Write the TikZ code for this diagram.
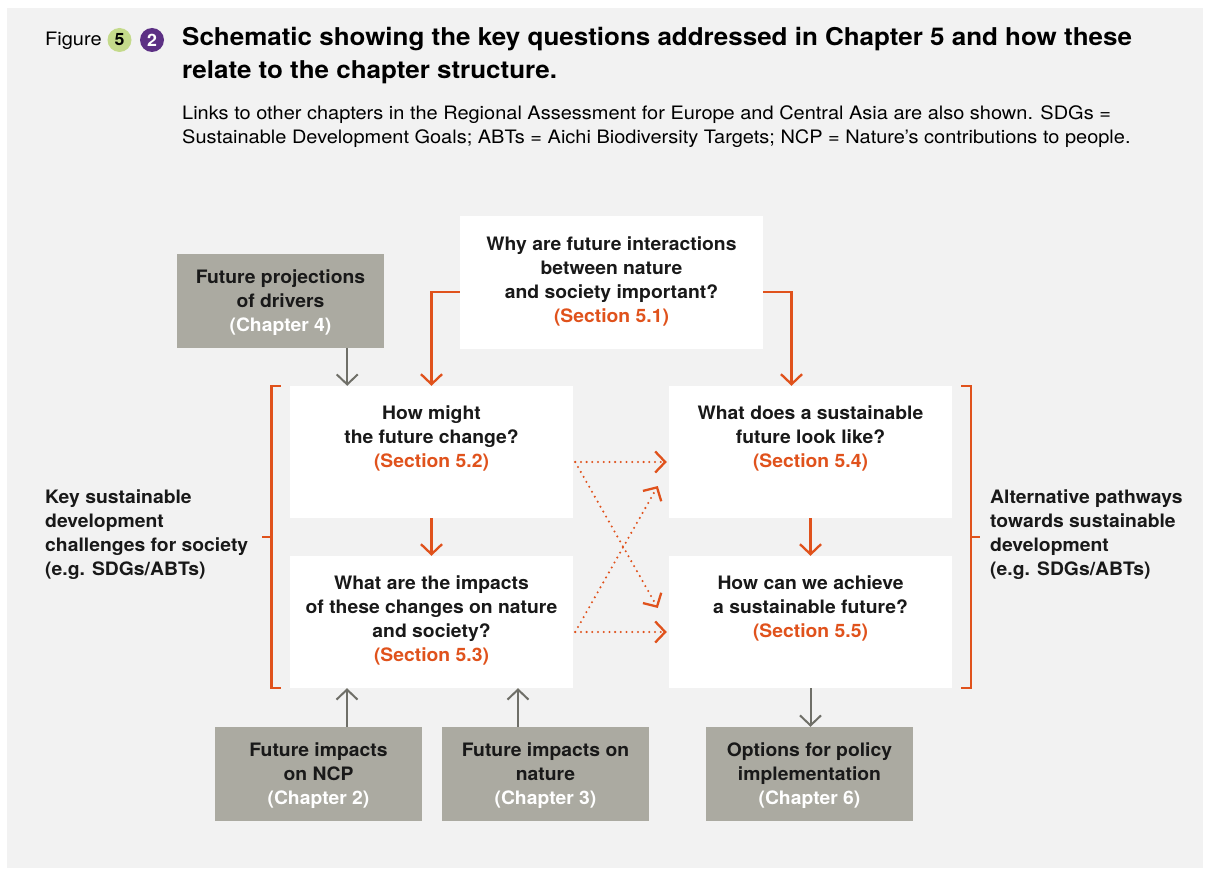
\documentclass[tikz,border=0pt]{standalone}
\usepackage{fontspec}
\setmainfont{TeX Gyre Heros}
\newfontfamily\boxfont[FakeStretch=1.045]{TeX Gyre Heros}
\newfontfamily\titlefont[FakeStretch=1.06]{TeX Gyre Heros}
\newfontfamily\capfont[FakeStretch=1.08]{TeX Gyre Heros}
\usetikzlibrary{arrows.meta,calc}

\definecolor{ipborange}{HTML}{E0521C}
\definecolor{chgray}{HTML}{ABAAA1}
\definecolor{arrgray}{HTML}{6F6F68}
\definecolor{bggray}{HTML}{F2F2F2}
\definecolor{fivegreen}{HTML}{C4DA8B}
\definecolor{twopurple}{HTML}{5C3084}

\tikzset{
  qbox/.style={fill=white, inner sep=0pt, minimum height=132pt},
  chbox/.style={fill=chgray, inner sep=0pt, minimum width=207pt, minimum height=94pt},
  qtext/.style={anchor=north, align=center, inner sep=0pt, text=black!90,
    font=\boxfont\bfseries\fontsize{18.5}{24}\selectfont},
  sidetext/.style={anchor=west, align=left, inner sep=0pt, text=black!90,
    font=\boxfont\bfseries\fontsize{18.5}{24}\selectfont},
  numdot/.style={circle, inner sep=0pt, minimum size=24pt, font=\boxfont\bfseries\fontsize{17}{17}\selectfont},
  orarrow/.style={draw=ipborange, line width=2.3pt, -{Straight Barb[length=10pt,width=21pt]}},
  grarrow/.style={draw=arrgray, line width=2pt, -{Straight Barb[length=10pt,width=21pt]}},
  dotarrow/.style={draw=ipborange, line width=2.3pt, line cap=round, dash pattern=on 0pt off 5.7pt,
    -{Straight Barb[length=10pt,width=21pt]}},
  bracket/.style={draw=ipborange, line width=2.5pt}
}

\begin{document}
\begin{tikzpicture}[x=1pt,y=-1pt]

% ===== Background =====
\useasboundingbox (0,0) rectangle (1210,869);
\fill[white] (0,0) rectangle (1210,869);
\fill[bggray] (7,8) rectangle (1203,868);

% ===== Header =====
\node[anchor=base west, inner sep=0pt, font=\capfont\fontsize{18.5}{20}\selectfont] (figlabel) at (45,46) {Figure};
\node[numdot, fill=fivegreen, text=black] (fig5) at (119.5,40) {5};
\node[numdot, fill=twopurple, text=white] (fig2) at (152,40) {2};
\node[anchor=north west, align=left, inner sep=0pt, font=\titlefont\bfseries\fontsize{24.5}{33}\selectfont] (title) at (182,27.5)
  {Schematic showing the key questions addressed in Chapter 5 and how these\\relate to the chapter structure.};
\node[anchor=north west, align=left, inner sep=0pt, font=\capfont\fontsize{18.5}{24}\selectfont] (subtitle) at (182,105)
  {Links to other chapters in the Regional Assessment for Europe and Central Asia are also shown. SDGs =\\Sustainable Development Goals; ABTs = Aichi Biodiversity Targets; NCP = Nature’s contributions to people.};

% ===== Question boxes =====
\node[qbox, minimum width=303pt] (q1) at (611.5,282.5) {};
\node[qbox, minimum width=283pt] (q2) at (431.5,452) {};
\node[qbox, minimum width=283pt] (q3) at (431.5,622) {};
\node[qbox, minimum width=283pt] (q4) at (810.5,452) {};
\node[qbox, minimum width=283pt] (q5) at (810.5,622) {};

\node[qtext] (t1) at ([yshift=-20pt]q1.north) {Why are future interactions\\between nature\\and society important?\\\textcolor{ipborange}{(Section 5.1)}};
\node[qtext] (t2) at ([yshift=-20pt]q2.north) {How might\\the future change?\\\textcolor{ipborange}{(Section 5.2)}};
\node[qtext] (t3) at ([yshift=-20pt]q3.north) {What are the impacts\\of these changes on nature\\and society?\\\textcolor{ipborange}{(Section 5.3)}};
\node[qtext] (t4) at ([yshift=-20pt]q4.north) {What does a sustainable\\future look like?\\\textcolor{ipborange}{(Section 5.4)}};
\node[qtext] (t5) at ([yshift=-20pt]q5.north) {How can we achieve\\a sustainable future?\\\textcolor{ipborange}{(Section 5.5)}};

% ===== Chapter boxes =====
\node[chbox] (ch4) at (280.5,301) {};
\node[chbox] (ch2) at (318.5,774) {};
\node[chbox] (ch3) at (545.5,774) {};
\node[chbox] (ch6) at (809.5,774) {};

\node[qtext] (c4) at ([yshift=-16pt]ch4.north) {Future projections\\of drivers\\\textcolor{white}{(Chapter 4)}};
\node[qtext] (c2) at ([yshift=-16pt]ch2.north) {Future impacts\\on NCP\\\textcolor{white}{(Chapter 2)}};
\node[qtext] (c3) at ([yshift=-16pt]ch3.north) {Future impacts on\\nature\\\textcolor{white}{(Chapter 3)}};
\node[qtext] (c6) at ([yshift=-16pt]ch6.north) {Options for policy\\implementation\\\textcolor{white}{(Chapter 6)}};

% ===== Side labels =====
\node[sidetext] (keylab) at (45,535) {Key sustainable\\development\\challenges for society\\(e.g. SDGs/ABTs)};
\node[sidetext] (altlab) at (990,535) {Alternative pathways\\towards sustainable\\development\\(e.g. SDGs/ABTs)};

% ===== Brackets =====
\draw[bracket] ([xshift=-9pt]q2.north west) -| ([xshift=-18.5pt]q3.south west) -- ([xshift=-9pt]q3.south west);
\draw[bracket] ($([xshift=-18.5pt]q2.north west)!.5!([xshift=-18.5pt]q3.south west)$) -- ++(-9,0);
\draw[bracket] ([xshift=9pt]q4.north east) -| ([xshift=19pt]q5.south east) -- ([xshift=9pt]q5.south east);
\draw[bracket] ($([xshift=19pt]q4.north east)!.5!([xshift=19pt]q5.south east)$) -- ++(9,0);

% ===== Solid arrows =====
\draw[orarrow] ([yshift=-9.5pt]q1.west) -| (q2.north);
\draw[orarrow] ([yshift=-9.5pt]q1.east) -| ([xshift=-19pt]q4.north);
\draw[orarrow] (q2.south) -- (q3.north);
\draw[orarrow] (q4.south) -- (q5.north);

\draw[grarrow] ([xshift=-37pt]ch4.south east) -- ([xshift=-37pt]ch4.south east |- q2.north);
\draw[grarrow] ([xshift=28.5pt]ch2.north) -- ([xshift=28.5pt]ch2.north |- q3.south);
\draw[grarrow] ([xshift=-27.5pt]ch3.north) -- ([xshift=-27.5pt]ch3.north |- q3.south);
\draw[grarrow] (q5.south) -- (q5.south |- ch6.north);

% ===== Dotted arrows =====
\draw[dotarrow] ([xshift=2pt,yshift=-10pt]q2.east) -- ([xshift=-2pt,yshift=-10pt]q4.west);
\draw[dotarrow] ([xshift=2pt,yshift=-10pt]q3.east) -- ([xshift=-2pt,yshift=-10pt]q5.west);
\draw[dotarrow] ([xshift=2pt,yshift=-10pt]q2.east) -- ([xshift=-11pt,yshift=14pt]q5.west);
\draw[dotarrow] ([xshift=2pt,yshift=-10pt]q3.east) -- ([xshift=-11pt,yshift=-34pt]q4.west);

\end{tikzpicture}
\end{document}
